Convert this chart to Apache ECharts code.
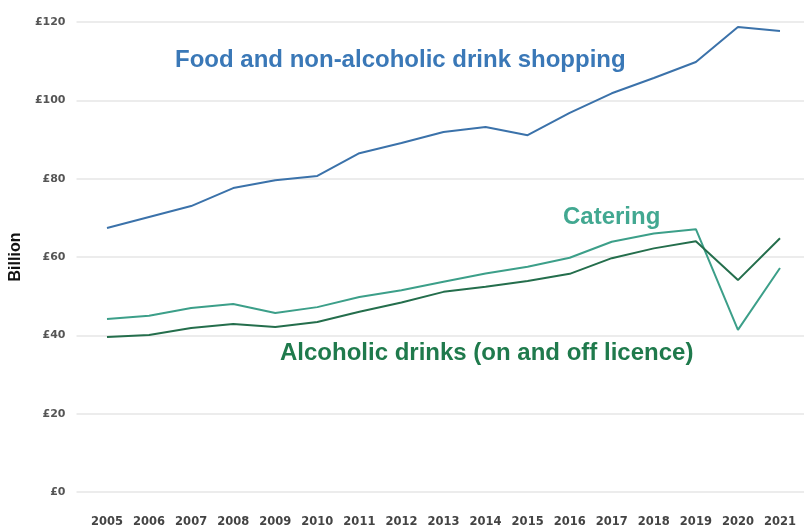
<!DOCTYPE html>
<html>
<head>
<meta charset="utf-8">
<script src="https://cdn.jsdelivr.net/npm/echarts@6/dist/echarts.min.js"></script>
<style>html,body{margin:0;padding:0;background:#fff}#c{width:804px;height:530px}</style>
</head>
<body>
<div id="c"></div>
<script>
var years = ['2005','2006','2007','2008','2009','2010','2011','2012','2013','2014','2015','2016','2017','2018','2019','2020','2021'];
var foodShopping = [67.4, 70.2, 73.0, 77.6, 79.6, 80.7, 86.5, 89.1, 91.9, 93.2, 91.1, 96.8, 101.8, 105.7, 109.8, 118.7, 117.7];
var catering = [44.2, 45.0, 47.0, 48.0, 45.7, 47.2, 49.8, 51.5, 53.7, 55.8, 57.5, 59.8, 63.9, 66.0, 67.1, 41.4, 57.2];
var alcohol = [39.6, 40.1, 41.9, 42.9, 42.1, 43.4, 46.0, 48.4, 51.1, 52.4, 53.9, 55.7, 59.7, 62.2, 64.0, 54.1, 64.8];
var yTicks = [0, 20, 40, 60, 80, 100, 120];

var chart = echarts.init(document.getElementById('c'), null, {renderer: 'canvas'});
var lbl = 'Liberation Sans';
chart.setOption({
  backgroundColor: '#ffffff',
  animation: false,
  grid: [
    {left: 75, right: 0, top: 22, bottom: 38},
    {left: 107, right: 24, top: 22, bottom: 38}
  ],
  xAxis: [
    {gridIndex: 0, type: 'value', min: 0, max: 1, show: false},
    {gridIndex: 1, type: 'category', boundaryGap: false, data: years,
     axisLine: {show: false}, axisTick: {show: false},
     axisLabel: {interval: 0, hideOverlap: false, margin: 24, fontFamily: 'DejaVu Sans', fontSize: 11.5, fontWeight: 'bold', color: '#444'}}
  ],
  yAxis: [
    {gridIndex: 0, type: 'value', min: yTicks[0], max: yTicks[yTicks.length - 1], interval: 20,
     name: 'Billion', nameLocation: 'middle', nameRotate: 90, nameGap: 52,
     nameTextStyle: {fontFamily: lbl, fontSize: 16, fontWeight: 'bold', color: '#111'},
     axisLine: {show: false}, axisTick: {show: false},
     splitLine: {lineStyle: {color: '#e6e6e6', width: 1.5}},
     axisLabel: {margin: 11, formatter: '£{value}', fontFamily: 'DejaVu Sans', fontSize: 11, fontWeight: 'bold', color: '#555'}},
    {gridIndex: 1, type: 'value', min: 0, max: 120, interval: 20, show: false, splitLine: {show: false}}
  ],
  series: [
    {name: 'Food and non-alcoholic drink shopping', type: 'line', xAxisIndex: 1, yAxisIndex: 1,
     data: foodShopping, symbol: 'none', lineStyle: {color: '#3b72aa', width: 2}},
    {name: 'Catering', type: 'line', xAxisIndex: 1, yAxisIndex: 1,
     data: catering, symbol: 'none', lineStyle: {color: '#3c9f89', width: 2}},
    {name: 'Alcoholic drinks (on and off licence)', type: 'line', xAxisIndex: 1, yAxisIndex: 1,
     data: alcohol, symbol: 'none', lineStyle: {color: '#246e4c', width: 2}}
  ],
  graphic: [
    {type: 'text', left: 175, top: 48, style: {text: 'Food and non-alcoholic drink shopping', fontFamily: lbl, fontSize: 24, fontWeight: 'bold', fill: '#3a78b7'}},
    {type: 'text', left: 563, top: 205, style: {text: 'Catering', fontFamily: lbl, fontSize: 24, fontWeight: 'bold', fill: '#42a891'}},
    {type: 'text', left: 280, top: 341, style: {text: 'Alcoholic drinks (on and off licence)', fontFamily: lbl, fontSize: 24, fontWeight: 'bold', fill: '#1f7a4c'}}
  ]
});
</script>
</body>
</html>
